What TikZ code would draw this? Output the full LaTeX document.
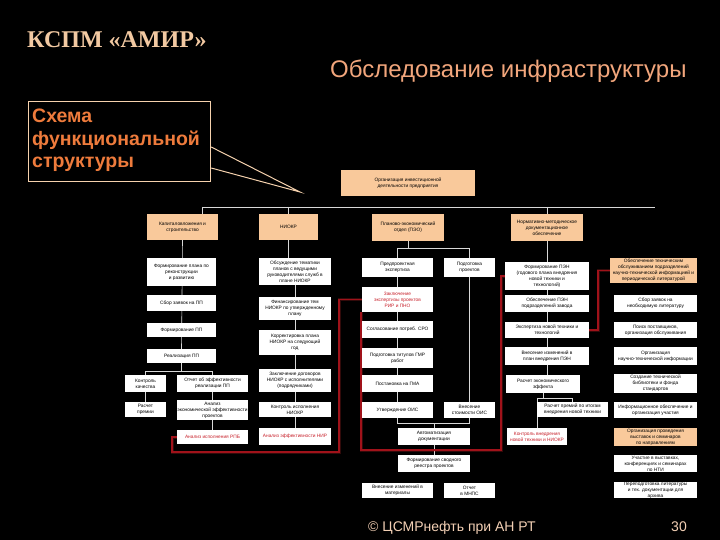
\documentclass[tikz,border=0pt]{standalone}
\usepackage{fontspec}
\setmainfont{Liberation Sans}
\newfontfamily\serifT{Liberation Serif}
\usetikzlibrary{calc}
\definecolor{peach}{HTML}{F9C99B}
\definecolor{titlec}{HTML}{F2C9A2}
\definecolor{subc}{HTML}{F2A67C}
\definecolor{callc}{HTML}{EE7B3C}
\definecolor{callb}{HTML}{F6D2AE}
\definecolor{foot}{HTML}{F3D0B5}
\definecolor{redl}{HTML}{A0121A}
\definecolor{redg}{HTML}{E83030}
\definecolor{redt}{HTML}{C8202A}
\definecolor{linec}{HTML}{D8D8D8}
\pgfdeclarelayer{bg}\pgfdeclarelayer{lines}\pgfsetlayers{bg,lines,main}
\tikzset{
 box/.style={fill=white, text=black, inner sep=0.3pt, align=center, font=\fontsize{4.8}{5.9}\selectfont},
 pbox/.style={box, fill=peach},
 rbox/.style={box, text=redt},
 conn/.style={draw=linec, line width=0.6pt},
 rglow/.style={draw=redg, draw opacity=0.22, line width=3pt},
 rconn/.style={draw=redl, line width=1.2pt},
}
\newcommand\mkbox[7]{\node[#1, minimum width={(#5)-(#3)}, minimum height={(#6)-(#4)}] (#2) at ({((#3)+(#5))/2},{((#4)+(#6))/2}) {#7};}
\begin{document}
\begin{tikzpicture}[x=1pt,y=-1pt]
\begin{pgfonlayer}{bg}
\fill[black] (0,0) rectangle (720,540);
\end{pgfonlayer}
\useasboundingbox (0,0) rectangle (720,540);
% titles
\node[anchor=base west, inner sep=0, text=titlec, font=\serifT\bfseries\fontsize{24}{24}\selectfont] (title) at (27,48) {КСПМ «АМИР»};
\node[anchor=base west, inner sep=0, text=subc, font=\fontsize{24}{24}\selectfont] (sub) at (330,78) {Обследование инфраструктуры};
% callout
\node[draw=callb, line width=1.2pt, minimum width=182, minimum height=80, anchor=north west, inner sep=0] (call) at (28,101) {};
\node[anchor=north west, inner sep=0, align=left, text=callc, font=\bfseries\fontsize{19.5}{22.5}\selectfont] (calltxt) at (32,109) {Схема\\функциональной\\структуры};
\coordinate (tip) at (300,192);
\draw[callb, line width=1pt] (call.east |- 0,147) -- (tip) -- (call.east |- 0,168);
% top
\mkbox{pbox}{T}{341}{170}{475}{196}{Организация инвестиционной\\деятельности предприятия}
\mkbox{pbox}{A1}{147}{214}{218}{240}{Капиталовложения и\\строительство}
\mkbox{pbox}{B1}{259}{214}{318}{240}{НИОКР}
\mkbox{pbox}{C1}{372}{214}{444}{241}{Планово-экономический\\отдел (ПЭО)}
\mkbox{pbox}{D1}{511}{214}{583}{241}{Нормативно-методическое\\документационное\\обеспечение}
% column A
\mkbox{box}{A2}{147}{258}{216}{286}{Формирование плана по\\реконструкции\\и развитию}
\mkbox{box}{A3}{147}{295}{216}{311}{Сбор заявок на ПП}
\mkbox{box}{A4}{147}{323}{216}{337}{Формирование ПП}
\mkbox{box}{A5}{147}{349}{216}{363}{Реализация ПП}
\mkbox{box}{A6a}{125}{375}{166}{392}{Контроль\\качества}
\mkbox{box}{A6b}{177}{375}{248}{392}{Отчет об эффективности\\реализации ПП}
\mkbox{box}{A7a}{125}{402}{166}{417}{Расчет\\премии}
\mkbox{box}{A7b}{177}{400}{248}{420}{Анализ\\экономической эффективности\\проектов}
\mkbox{rbox}{A8}{177}{430}{248}{444}{Анализ исполнения РПБ}
% column B
\mkbox{box}{B2}{259}{258}{331}{285}{Обсуждение тематики\\планов с ведущими\\руководителями служб в\\плане НИОКР}
\mkbox{box}{B3}{259}{297}{331}{320}{Финансирование тем\\НИОКР по утвержденному\\плану}
\mkbox{box}{B4}{259}{330}{331}{355}{Корректировка плана\\НИОКР на следующий\\год}
\mkbox{box}{B5}{259}{369}{331}{392}{Заключение договоров\\НИОКР с исполнителями\\(подрядчиками)}
\mkbox{box}{B6}{259}{402}{331}{417}{Контроль исполнения\\НИОКР}
\mkbox{rbox}{B7}{259}{428}{331}{445}{Анализ эффективности НИР}
% column C
\mkbox{box}{C2}{362}{258}{433}{277}{Предпроектная\\экспертиза}
\mkbox{box}{C2r}{444}{258}{495}{277}{Подготовка\\проектов}
\mkbox{rbox}{C3}{362}{287}{433}{312}{Заключение\\экспертизы проектов\\РИР и ПНО}
\mkbox{box}{C4}{362}{321}{433}{338}{Согласование потреб. СРО}
\mkbox{box}{C5}{362}{348}{433}{368}{Подготовка титулов ГМР\\работ}
\mkbox{box}{C6}{362}{375}{433}{392}{Постановка на ГМА}
\mkbox{box}{C7}{362}{402}{433}{418}{Утверждение ОИС}
\mkbox{box}{C7r}{444}{402}{495}{418}{Внесение\\стоимости ОИС}
\mkbox{box}{C8}{398}{428}{470}{445}{Автоматизация\\документации}
\mkbox{box}{C9}{398}{455}{470}{472}{Формирование сводного\\реестра проектов}
\mkbox{box}{C10}{362}{483}{433}{498}{Внесение изменений в\\материалы}
\mkbox{box}{C11}{444}{483}{495}{498}{Отчет\\в МНПС}
% column D
\mkbox{box}{D2}{505}{262}{589}{290}{Формирование ПЭН\\(годового плана внедрения\\новой техники и\\технологий)}
\mkbox{box}{D3}{505}{295}{589}{312}{Обеспечение ПЭН\\подразделений завода}
\mkbox{box}{D4}{505}{322}{589}{338}{Экспертиза новой техники и\\технологий}
\mkbox{box}{D5}{505}{347}{589}{365}{Внесение изменений в\\план внедрения ПЭН}
\mkbox{box}{D6}{506}{375}{580}{393}{Расчет экономического\\эффекта}
\mkbox{box}{D7}{537}{402}{608}{417}{Расчет премий по итогам\\внедрения новой техники}
\mkbox{rbox}{D8}{507}{428}{567}{445}{Контроль внедрения\\новой техники и НИОКР}
% column E
\mkbox{pbox}{E1}{610}{258}{697}{283}{Обеспечение техническим\\обслуживанием подразделений\\научно-технической информацией и\\периодической литературой}
\mkbox{box}{E2}{614}{295}{697}{312}{Сбор заявок на\\необходимую литературу}
\mkbox{box}{E3}{614}{322}{697}{338}{Поиск поставщиков,\\организация обслуживания}
\mkbox{box}{E4}{614}{347}{697}{365}{Организация\\научно-технической информации}
\mkbox{box}{E5}{614}{374}{697}{393}{Создание технической\\библиотеки и фонда\\стандартов}
\mkbox{box}{E6}{614}{402}{697}{418}{Информационное обеспечение и\\организация участия}
\mkbox{pbox}{E7}{614}{428}{697}{446}{Организация проведения\\выставок и семинаров\\по направлениям}
\mkbox{box}{E8}{614}{455}{697}{472}{Участие в выставках,\\конференциях и семинарах\\по НТИ}
\mkbox{box}{E9}{614}{482}{697}{498}{Переподготовка литературы\\и тех. документации для\\архива}
% footer
\node[anchor=base west, inner sep=0, text=foot, font=\fontsize{14}{14}\selectfont] (foot) at (368,531) {© ЦСМРнефть при АН РТ};
\node[anchor=base east, inner sep=0, text=foot, font=\fontsize{14}{14}\selectfont] (page) at (687,531) {30};
% connectors
\begin{pgfonlayer}{lines}
\coordinate (hl) at (202,207);
\coordinate (hr) at (655,207);
\draw[conn] (hl) -- (hr);
\draw[conn] (hl) -- (hl |- A1.north);
\draw[conn] (B1.north |- hl) -- (B1.north);
\draw[conn] (D1.north |- hl) -- (D6.north -| D1);
\draw[conn] (A1.south) -- (A5.north);
\draw[conn] (A5.south) -- ++(0,8) coordinate (ab);
\draw[conn] (A6a.north |- ab) -- (A6b.north |- ab);
\draw[conn] (A6a.north |- ab) -- (A6a.north);
\draw[conn] (A6b.north |- ab) -- (A6b.north);
\draw[conn] (A6a) -- (A7a);
\draw[conn] (A6b) -- (A8);
\draw[conn] (B1.south) -- (B2.north -| B1);
\draw[conn] (B2) -- (B7);
\draw[conn] (C1.south) -- ++(0,7) coordinate (cb);
\draw[conn] (C2.north |- cb) -- (C2r.north |- cb);
\draw[conn] (C2.north |- cb) -- (C2.north);
\draw[conn] (C2r.north |- cb) -- (C2r.north);
\draw[conn] (C2) -- (C7);
\draw[conn] (C2r) -- (C7r);
\coordinate (cj) at (0,423);
\draw[conn] (C7.south) -- (C7.south |- cj) -- (C7r.south |- cj) -- (C7r.south);
\draw[conn] (C8.north |- cj) -- (C8.north);
\draw[conn] (C8) -- (C9);
\draw[conn] (D6.south) -- ++(0,5) coordinate (db);
\draw[conn] (D8.north |- db) -- (D7.north |- db);
\draw[conn] (D8.north |- db) -- (D8.north);
\draw[conn] (D7.north |- db) -- (D7.north);
\end{pgfonlayer}
% red links
\coordinate (r1a) at (339,452);
\coordinate (r1b) at (172,452);
\coordinate (r2a) at (501,450);
\coordinate (r2b) at (361,450);
\coordinate (r3) at (598,0);
\begin{pgfonlayer}{lines}
\draw[rglow] (C3.west) -| (r1a) -- (r1b) |- (A8.west);
\draw[rglow] (D2.west) -| (r2a) -- (r2b) -- (r2b |- C3.south);
\draw[rglow] (D4.east) -- (D4.east -| r3) -- (E1.west -| r3) -- (E1.west);
\draw[rconn] (C3.west) -| (r1a) -- (r1b) |- (A8.west);
\draw[rconn] (D2.west) -| (r2a) -- (r2b) -- (r2b |- C3.south);
\draw[rconn] (D4.east) -- (D4.east -| r3) -- (E1.west -| r3) -- (E1.west);
\end{pgfonlayer}
\end{tikzpicture}
\end{document}
